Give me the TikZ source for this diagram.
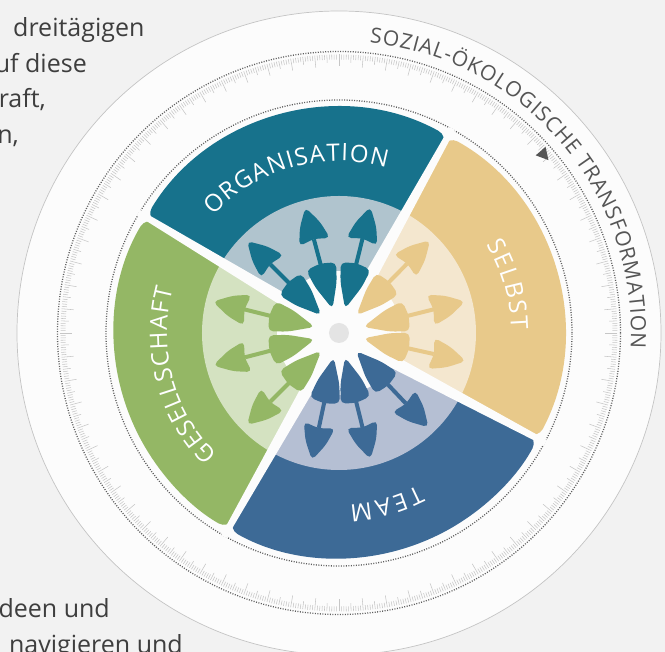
\documentclass[tikz,border=0pt]{standalone}
\usepackage{fontspec}
\setmainfont{Open Sans}
\newfontfamily\bodyfont{Open Sans}
\usetikzlibrary{decorations.text}
\definecolor{bgc}{HTML}{F2F2F2}
\definecolor{discc}{HTML}{FCFCFC}
\definecolor{discedge}{HTML}{C4C4C4}
\definecolor{tickc}{HTML}{C6C6C6}
\definecolor{dotc}{HTML}{5E5E5E}
\definecolor{ringtxt}{HTML}{555555}
\definecolor{bodyc}{HTML}{3E3E3E}
\definecolor{orgc}{HTML}{17728C}
\definecolor{orgl}{HTML}{B0C4CE}
\definecolor{selc}{HTML}{E8C98A}
\definecolor{sell}{HTML}{F4E7CF}
\definecolor{teamc}{HTML}{3D6A96}
\definecolor{teaml}{HTML}{B5BFD3}
\definecolor{gesc}{HTML}{94B765}
\definecolor{gesl}{HTML}{D4E2C1}
\definecolor{hubc}{HTML}{E4E4E4}
\tikzset{
  bodytext/.style={font=\bodyfont\fontsize{25}{30}\selectfont, text=bodyc, inner sep=0pt},
  dotring/.style={draw=dotc, line width=1.3pt, dash pattern=on 1pt off 1.5pt},
  segshape/.style={rounded corners=11pt},
  gapshape/.style={fill=discc},
}
\newcommand\segsector[3]{\fill[#1, segshape] (0,0) -- (#2:225pt) arc[start angle=#2, end angle=#3, radius=225pt] -- cycle;}
\newcommand\gapwedge[1]{\fill[gapshape, rotate=#1] (48,-6.5) -- (234,-3) -- (234,3) -- (48,6.5) -- cycle;}
\newcommand\dartarrow[2]{%
  \fill[#1, rotate=#2, rounded corners=5pt] (25,0) -- (50,-11) -- (69,-15.5) -- (72,0) -- (69,15.5) -- (50,11) -- cycle;
  \draw[#1, line width=4pt, rotate=#2] (64,0) -- (97,0);
  \fill[#1, rotate=#2, rounded corners=5pt] (94,-16) -- (112,-10.5) -- (130,0) -- (112,10.5) -- (94,16) -- (97.5,0) -- cycle;
}
\newcommand\labelfmt{\color{white}\fontsize{24}{24}\selectfont}
\newcommand\ringfmt{\color{ringtxt}\fontsize{21}{21}\selectfont}
\begin{document}
\begin{tikzpicture}[x=1pt,y=1pt]
\useasboundingbox (-339,-319) rectangle (326,333);
\fill[bgc] (-339,-319) rectangle (326,333);
% body text fragments
\node[bodytext, anchor=base west] (t1) at (-326,296) {dreitägigen};
\node[bodytext, anchor=base east] (t2) at (-252,260.5) {uf diese};
\node[bodytext, anchor=base east] (t3) at (-293,225) {raft,};
\node[bodytext, anchor=base east] (t4) at (-320,189.5) {n,};
\node[bodytext, anchor=base east] (t5) at (-229,-285) {deen und};
\node[bodytext, anchor=base east] (t6) at (-156,-320.5) {navigieren und};
% disc
\fill[discc] (0,0) circle (322pt);
\draw[discedge, line width=0.7pt] (0,0) circle (322pt);
% ticks
\foreach \i in {0,...,719}{
  \pgfmathsetmacro\tl{ifthenelse(mod(\i,10)==0,12,ifthenelse(mod(\i,5)==0,8,5))}
  \pgfmathsetmacro\ri{278.5-\tl}
  \draw[tickc, line width=0.55pt] (\i*0.5:278.5pt) -- (\i*0.5:\ri pt);
}
\draw[dotring] (0,0) circle (281.5pt);
\draw[dotring] (0,0) circle (233pt);
% marker
\fill[ringtxt, rotate=41] (265,5) -- (278,5) -- (271.5,-7) -- cycle;
% ring text
\path[decorate, decoration={text along path, text align={fit to path}, text={|\ringfmt|SOZIAL-ÖKOLOGISCHE TRANSFORMATION}}] (84:292pt) arc[start angle=84, end angle=-3, radius=292pt];
% segments
\segsector{orgc}{61}{149}
\segsector{selc}{-28}{61}
\segsector{teamc}{-119.5}{-28}
\segsector{gesc}{149}{240.5}
\begin{scope}
  \clip (0,0) circle (137pt);
  \segsector{orgl}{61}{149}
  \segsector{sell}{-28}{61}
  \segsector{teaml}{-119.5}{-28}
  \segsector{gesl}{149}{240.5}
\end{scope}
\gapwedge{61}
\gapwedge{149}
\gapwedge{-28}
\gapwedge{-119.5}
\fill[discc] (0,0) circle (62pt);
\fill[hubc] (0,0) circle (10pt);
% arrows
\dartarrow{orgc}{135}
\dartarrow{orgc}{105}
\dartarrow{orgc}{76}
\dartarrow{selc}{45.5}
\dartarrow{selc}{14}
\dartarrow{selc}{-12.5}
\dartarrow{teamc}{-46.5}
\dartarrow{teamc}{-76}
\dartarrow{teamc}{-102}
\dartarrow{gesc}{166}
\dartarrow{gesc}{194.5}
\dartarrow{gesc}{225}
% labels
\path[decorate, decoration={text along path, text align={fit to path}, text={|\labelfmt|ORGANISATION}}] (137:172pt) arc[start angle=137, end angle=74, radius=172pt];
\path[decorate, decoration={text along path, text align={fit to path}, text={|\labelfmt|SELBST}}] (31:172pt) arc[start angle=31, end angle=1, radius=172pt];
\path[decorate, decoration={text along path, text align={fit to path}, text={|\labelfmt|TEAM}}] (-62.5:172pt) arc[start angle=-62.5, end angle=-86.5, radius=172pt];
\path[decorate, decoration={text along path, text align={fit to path}, text={|\labelfmt|GESELLSCHAFT}}] (225:172pt) arc[start angle=225, end angle=165, radius=172pt];
\end{tikzpicture}
\end{document}
